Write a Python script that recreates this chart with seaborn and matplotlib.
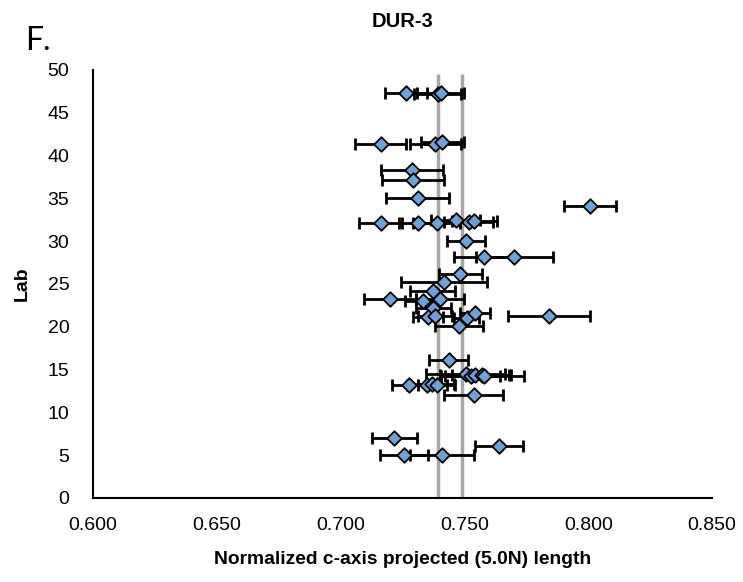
import matplotlib
matplotlib.use("Agg")
import matplotlib.pyplot as plt
import seaborn as sns
import pandas as pd
from matplotlib.ticker import MultipleLocator

lab = [47.3, 47.2, 47.3, 41.4, 41.3, 41.6, 38.3, 37.15, 35.1, 34.15,
       32.1, 32.1, 32.1, 32.5, 32.3, 32.4, 30.06, 28.1, 28.1, 26.17,
       25.2, 24.2, 23.2, 22.97, 23.25, 22.15, 21.15, 21.26, 21.0, 21.6,
       21.26, 20.1, 16.1, 14.5, 14.3, 14.4, 14.4, 14.3, 13.2, 13.2,
       13.3, 13.2, 12.03, 7.05, 6.07, 5.02, 5.02]
length = [0.7265, 0.7392, 0.7405, 0.7162, 0.7382, 0.7411, 0.7288, 0.7294, 0.7311, 0.8008,
          0.7162, 0.7314, 0.7388, 0.7465, 0.7517, 0.7540, 0.7507, 0.7579, 0.7702, 0.7483,
          0.7418, 0.7372, 0.7200, 0.7331, 0.7402, 0.7375, 0.7352, 0.7382, 0.7510, 0.7543,
          0.7842, 0.7479, 0.7436, 0.7505, 0.7525, 0.7542, 0.7570, 0.7580, 0.7278, 0.7348,
          0.7368, 0.7388, 0.7537, 0.7217, 0.7640, 0.7257, 0.7409]
err = [0.0085, 0.0095, 0.0095, 0.0104, 0.0103, 0.0086, 0.0125, 0.0125, 0.0127, 0.0105,
       0.0086, 0.0080, 0.0094, 0.0100, 0.0100, 0.0090, 0.0076, 0.0120, 0.0155, 0.0087,
       0.0173, 0.0092, 0.0104, 0.0070, 0.0097, 0.0070, 0.0060, 0.0068, 0.0050, 0.0060,
       0.0165, 0.0097, 0.0080, 0.0160, 0.0120, 0.0140, 0.0120, 0.0160, 0.0070, 0.0080,
       0.0090, 0.0075, 0.0118, 0.0092, 0.0096, 0.0097, 0.0128]
ref_lines = [0.7395, 0.7490]

df = pd.DataFrame({"Lab": lab, "len": length, "err": err})

sns.set_style("white")
plt.rcParams['font.family'] = ['Liberation Sans', 'DejaVu Sans']
plt.rcParams['text.color'] = 'black'
plt.rcParams['axes.labelcolor'] = 'black'

fig = plt.figure(figsize=(7.43, 5.82), dpi=100)
ax = fig.add_axes([93/743, 84/582, 619/743, 428/582])

ax.vlines(ref_lines, 0, 49.5, colors="#a6a6a6", linewidth=2.5, zorder=1)
ax.errorbar(df["len"], df["Lab"], xerr=df["err"], fmt="none", ecolor="black",
            elinewidth=2, capsize=4, capthick=2, zorder=2)
sns.scatterplot(data=df, x="len", y="Lab", marker="D", s=55, color="#6fa0d8",
                edgecolor="black", linewidth=1.3, zorder=3, ax=ax)

ax.set_xlim(0.6, 0.85)
ax.set_ylim(0, 50)
ax.xaxis.set_major_locator(MultipleLocator(0.05))
ax.xaxis.set_minor_locator(MultipleLocator(0.025))
ax.yaxis.set_major_locator(MultipleLocator(5))
ax.set_xticklabels([f"{v:.3f}" for v in ax.get_xticks()])
ax.tick_params(axis="both", which="both", direction="in", length=5, width=1.5,
               labelsize=14, colors="black")
ax.tick_params(axis="x", pad=14)
ax.tick_params(axis="y", pad=17)
for s in ["top", "right"]:
    ax.spines[s].set_visible(False)
for s in ["left", "bottom"]:
    ax.spines[s].set_color("black")
    ax.spines[s].set_linewidth(1.5)

ax.set_xlabel("Normalized c-axis projected (5.0N) length", fontsize=13.9,
              fontweight="bold", labelpad=12)
ax.set_ylabel("Lab", fontsize=14, fontweight="bold", labelpad=12)
ax.set_title("DUR-3", fontsize=14.5, fontweight="bold", pad=31)
fig.text(25/743, 1 - 50/582, "F.", fontsize=23, family="Lato")

fig.savefig("out.png", dpi=100)
